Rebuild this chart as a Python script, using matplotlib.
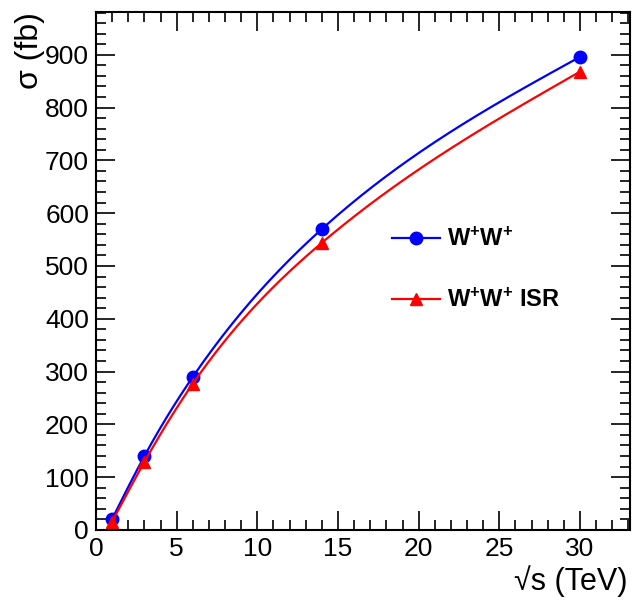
import numpy as np
import matplotlib
matplotlib.use("Agg")
import matplotlib.pyplot as plt
from matplotlib.ticker import MultipleLocator

plt.rcParams['font.family'] = ['Liberation Sans', 'DejaVu Sans']
plt.rcParams['mathtext.fontset'] = 'custom'
plt.rcParams['mathtext.rm'] = 'Liberation Sans'
plt.rcParams['mathtext.bf'] = 'Liberation Sans:bold'

# данные
sqrt_s = [1, 3, 6, 14, 30]
sigma_ww = [21, 140, 290, 570, 896]
sigma_ww_isr = [16, 129, 277, 544, 868]
label_ww = r'$\mathbf{W^{+}W^{+}}$'
label_ww_isr = r'$\mathbf{W^{+}W^{+}}$ ISR'


def smooth(x, y, n=200):
    """Natural cubic spline through the points (ROOT-style 'C' drawing)."""
    x = np.asarray(x, float)
    y = np.asarray(y, float)
    h = np.diff(x)
    k = len(x)
    A = np.zeros((k, k))
    b = np.zeros(k)
    A[0, 0] = A[-1, -1] = 1
    for i in range(1, k - 1):
        A[i, i - 1] = h[i - 1]
        A[i, i] = 2 * (h[i - 1] + h[i])
        A[i, i + 1] = h[i]
        b[i] = 6 * ((y[i + 1] - y[i]) / h[i] - (y[i] - y[i - 1]) / h[i - 1])
    M = np.linalg.solve(A, b)
    xs = np.linspace(x[0], x[-1], n)
    idx = np.clip(np.searchsorted(x, xs) - 1, 0, k - 2)
    x0, x1 = x[idx], x[idx + 1]
    hh = x1 - x0
    t0 = x1 - xs
    t1 = xs - x0
    ys = (M[idx] * t0 ** 3 / (6 * hh) + M[idx + 1] * t1 ** 3 / (6 * hh)
          + (y[idx] / hh - M[idx] * hh / 6) * t0
          + (y[idx + 1] / hh - M[idx + 1] * hh / 6) * t1)
    return xs, ys


fig = plt.figure(figsize=(6.33, 6.0), dpi=100)
ax = fig.add_axes([0.1517, 0.1167, 0.8436, 0.8633])

xs, ys = smooth(sqrt_s, sigma_ww)
ax.plot(xs, ys, color='blue', lw=1.6)
ax.plot(sqrt_s, sigma_ww, 'o', color='blue', ms=9)
xs, ys = smooth(sqrt_s, sigma_ww_isr)
ax.plot(xs, ys, color='red', lw=1.6)
ax.plot(sqrt_s, sigma_ww_isr, '^', color='red', ms=9)

# legend handles
h1, = ax.plot([], [], '-o', color='blue', lw=1.6, ms=9)
h2, = ax.plot([], [], '-^', color='red', lw=1.6, ms=9)
leg = ax.legend([h1, h2], [label_ww, label_ww_isr], loc='upper left',
                bbox_to_anchor=(0.515, 0.625), frameon=False,
                prop={'weight': 'bold', 'size': 17}, labelspacing=1.6,
                handlelength=2.0, handletextpad=0.3)

ax.set_xlim(0, 33.1)
ax.set_ylim(0, 981)
ax.xaxis.set_major_locator(MultipleLocator(5))
ax.xaxis.set_minor_locator(MultipleLocator(1))
ax.yaxis.set_major_locator(MultipleLocator(100))
ax.yaxis.set_minor_locator(MultipleLocator(20))
ax.tick_params(which='both', direction='in', top=True, right=True,
               labelsize=19, width=1.2, pad=5)
ax.tick_params(which='major', length=14)
ax.tick_params(which='minor', length=7)
for sp in ax.spines.values():
    sp.set_linewidth(1.5)

ax.set_xlabel('√s (TeV)', fontsize=22, ha='right', va='bottom')
ax.xaxis.set_label_coords(0.995, -0.13)
ax.set_ylabel('σ (fb)', fontsize=23, loc='top', labelpad=0)

fig.savefig('out.png', dpi=100)
